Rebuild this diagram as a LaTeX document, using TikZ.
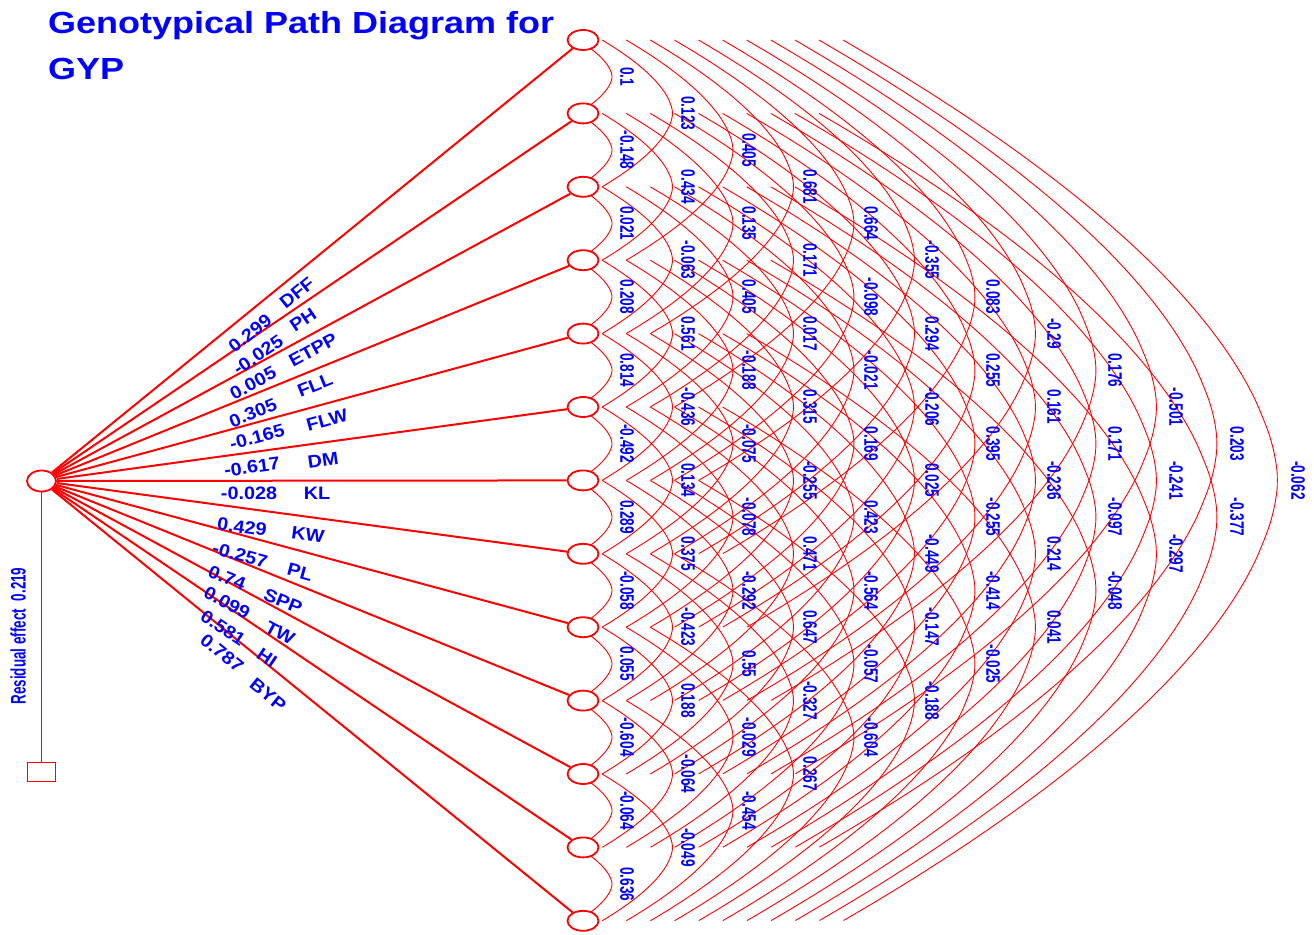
\documentclass[tikz,border=0pt]{standalone}
\usepackage{fontspec}
\setmainfont{Liberation Sans}
\usetikzlibrary{shapes.geometric}
\newcommand\hsqueeze[2]{\scalebox{#1}[1]{#2}}
% one column of correlation values: gap #1 between traits, values #2 from top to bottom
\newcommand\corrcolumn[2]{%
  \foreach \v [count=\i from 0] in {#2}
    \node[corrlabel] (g#1-\i) at ({627+61*(#1-1)},{40+36.7*#1+73.4*\i}) {\hsqueeze{0.70}{\v}};%
}
\begin{document}
\begin{tikzpicture}[x=1pt,y=-1pt,
  trait/.style={ellipse, draw=red, line width=1.8pt, fill=white,
    minimum width=31pt, minimum height=20pt, inner sep=0pt},
  effectbox/.style={rectangle, draw=red, line width=1.8pt, fill=white,
    minimum width=28pt, minimum height=19pt, inner sep=0pt},
  pathline/.style={draw=red, line width=2pt},
  corrarc/.style={draw=red, line width=0.9pt},
  residline/.style={draw=red, line width=1.2pt},
  coeflabel/.style={text=blue, inner sep=0pt, font=\fontsize{18}{18}\selectfont\bfseries},
  corrlabel/.style={text=blue, inner sep=0pt, rotate=-90, font=\fontsize{19.5}{19.5}\selectfont\bfseries},
  titletext/.style={text=blue, inner sep=0pt, anchor=base west, font=\fontsize{30.5}{30}\selectfont\bfseries}
]
\useasboundingbox (0,0) rectangle (1314,934);

% correlation arcs between every pair of traits
\foreach \k in {1,...,12} {
  \pgfmathsetmacro\arcx{578+24.1*(\k-1)}
  \pgfmathsetmacro\arcw{34+36.4*(\k-1)}
  \pgfmathsetmacro\arch{36.7*\k}
  \pgfmathtruncatemacro\lastrow{12-\k}
  \foreach \r in {0,...,\lastrow} {
    \pgfmathsetmacro\ym{40+73.4*\r+\arch}
    \draw[corrarc] plot[domain=-1:1, samples=50, smooth]
      ({\arcx+\arcw*(1-abs(\x)^1.75)}, {\ym+\arch*\x});
  }
}

% trait nodes
\node[trait, minimum width=29pt, minimum height=21pt] (c) at (41.5,481) {};
\foreach \i in {1,...,13}
  \node[trait] (n\i) at (583,{40+73.4*(\i-1)}) {};
\node[effectbox] (e) at (41.5,772) {};

% residual path and direct paths
\draw[residline] (c) -- (e);
\foreach \i in {1,...,13}
  \draw[pathline] (c) -- (n\i);

% direct effects and trait names
\foreach \i/\num/\name/\nx/\ny/\mx/\my/\ang in {
   1/0.299/DFF/250/333/297/293/39.1,
   2/-0.025/PH/258/355/303/320/34.2,
   3/0.005/ETPP/253/383/313/350/28.5,
   4/0.305/FLL/253/413/315/385/22.2,
   5/-0.165/FLW/257/437/327/420/15.2,
   6/-0.617/DM/252/467/323/460/7.8,
   7/-0.028/KL/249/493/317/493/0,
   8/0.429/KW/242/527/308/535/-7.7,
   9/-0.257/PL/240/555/300/572/-15.1,
   10/0.74/SPP/227/578/283/601/-22.1,
   11/0.099/TW/227/603/280/633/-28.4,
   12/0.581/HI/223/628/267/658/-34.1,
   13/0.787/BYP/222/653/268/695/-39.1} {
  \node[coeflabel, rotate=\ang] (d\i) at (\nx,\ny) {\hsqueeze{1.1}{\num}};
  \node[coeflabel, rotate=\ang] (t\i) at (\mx,\my) {\hsqueeze{1.1}{\name}};
}

% correlation coefficients
\corrcolumn{1}{0.1,-0.148,0.021,0.208,0.814,-0.492,0.289,-0.058,0.055,-0.604,-0.064,0.636}
\corrcolumn{2}{0.123,0.434,-0.063,0.561,-0.436,0.134,0.375,-0.423,0.188,-0.064,-0.049}
\corrcolumn{3}{0.405,0.135,0.405,-0.188,-0.075,-0.078,-0.292,0.55,-0.029,-0.454}
\corrcolumn{4}{0.681,0.171,0.017,0.315,-0.255,0.471,0.647,-0.327,0.267}
\corrcolumn{5}{0.664,-0.098,-0.021,0.169,0.423,-0.564,-0.057,-0.604}
\corrcolumn{6}{-0.355,0.294,-0.206,0.025,-0.449,-0.147,-0.188}
\corrcolumn{7}{0.083,0.255,0.395,-0.255,-0.414,-0.025}
\corrcolumn{8}{-0.29,0.161,-0.236,0.214,0.041}
\corrcolumn{9}{0.176,0.171,-0.097,-0.048}
\corrcolumn{10}{-0.501,-0.241,-0.297}
\corrcolumn{11}{0.203,-0.377}
\corrcolumn{12}{-0.062}

% residual effect
\node[text=blue, inner sep=0pt, rotate=90, font=\fontsize{21}{21}\selectfont\bfseries]
  (resid) at (18,636) {\hsqueeze{0.64}{Residual effect\hspace{12pt}0.219}};

% title
\node[titletext] (title1) at (48,34) {\hsqueeze{1.18}{Genotypical Path Diagram for}};
\node[titletext] (title2) at (48,80) {\hsqueeze{1.18}{GYP}};
\end{tikzpicture}
\end{document}
